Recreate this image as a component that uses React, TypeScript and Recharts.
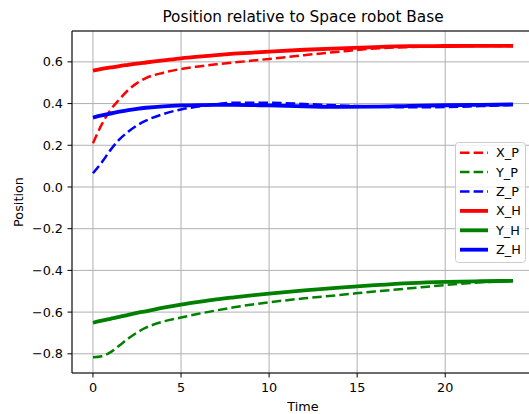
import {
  LineChart,
  Line,
  XAxis,
  YAxis,
  CartesianGrid,
  Legend,
  Label,
  ReferenceLine,
} from "recharts";

const FONT = "DejaVu Sans, sans-serif";

// time samples and series
const T = [0, 0.5, 1, 1.5, 2, 2.5, 3, 4, 5, 6, 7, 8, 10, 12, 14, 16, 18, 20, 22, 23.85];
const XP = [0.21, 0.3, 0.37, 0.42, 0.465, 0.498, 0.522, 0.548, 0.566, 0.578, 0.588, 0.597, 0.614, 0.632, 0.649, 0.664, 0.671, 0.675, 0.676, 0.676];
const YP = [-0.817, -0.812, -0.792, -0.76, -0.727, -0.698, -0.675, -0.645, -0.626, -0.608, -0.592, -0.577, -0.553, -0.534, -0.518, -0.501, -0.486, -0.47, -0.457, -0.451];
const ZP = [0.066, 0.118, 0.178, 0.228, 0.265, 0.295, 0.318, 0.35, 0.372, 0.386, 0.397, 0.404, 0.404, 0.398, 0.391, 0.385, 0.382, 0.383, 0.388, 0.393];
const XH = [0.558, 0.566, 0.573, 0.58, 0.586, 0.592, 0.597, 0.607, 0.617, 0.625, 0.632, 0.639, 0.649, 0.658, 0.665, 0.671, 0.675, 0.676, 0.677, 0.677];
const YH = [-0.651, -0.641, -0.632, -0.623, -0.613, -0.604, -0.596, -0.579, -0.564, -0.551, -0.539, -0.529, -0.511, -0.496, -0.483, -0.471, -0.461, -0.455, -0.452, -0.45];
const ZH = [0.333, 0.343, 0.352, 0.361, 0.369, 0.375, 0.38, 0.387, 0.391, 0.393, 0.394, 0.394, 0.391, 0.387, 0.384, 0.385, 0.389, 0.392, 0.394, 0.396];

const X_TICKS = [0, 5, 10, 15, 20];
const Y_TICKS = [-0.8, -0.6, -0.4, -0.2, 0, 0.2, 0.4, 0.6];

const data = T.map((t, i) => ({
  t,
  X_P: XP[i],
  Y_P: YP[i],
  Z_P: ZP[i],
  X_H: XH[i],
  Y_H: YH[i],
  Z_H: ZH[i],
}));

const series = [
  { key: "X_P", color: "#ff0000", dashed: true },
  { key: "Y_P", color: "#008000", dashed: true },
  { key: "Z_P", color: "#0000ff", dashed: true },
  { key: "X_H", color: "#ff0000", dashed: false },
  { key: "Y_H", color: "#008000", dashed: false },
  { key: "Z_H", color: "#0000ff", dashed: false },
];

const DASH = "9.5 4.1";
const fmtY = (v: number) => (v < 0 ? "\u2212" + Math.abs(v).toFixed(1) : v.toFixed(1));

function LegendBox() {
  return (
    <svg width={71} height={121} style={{ display: "block" }}>
      <rect x={0.5} y={0.5} width={70} height={120} rx={3} fill="rgba(255,255,255,0.8)" stroke="#cccccc" />
      {series.map((s, i) => {
        const y = 10.7 + i * 19.4;
        return (
          <g key={s.key}>
            <line
              x1={5}
              x2={33}
              y1={y}
              y2={y}
              stroke={s.color}
              strokeWidth={s.dashed ? 2.5 : 3.8}
              strokeDasharray={s.dashed ? DASH : undefined}
            />
            <text x={41} y={y} dominantBaseline="central" fontSize={12.8} fontFamily={FONT} fill="#000">
              {s.key}
            </text>
          </g>
        );
      })}
    </svg>
  );
}

export default function App() {
  return (
    <div
      style={{
        position: "fixed",
        left: 0,
        top: 0,
        width: 529,
        height: 414,
        overflow: "hidden",
        background: "#fff",
      }}
    >
      <svg width={529} height={31} style={{ position: "absolute", left: 0, top: 0 }}>
        <text x={303} y={21.5} textAnchor="middle" fontSize={15.3} fontFamily={FONT} fill="#000">
          Position relative to Space robot Base
        </text>
      </svg>
      <LineChart
        width={540}
        height={414}
        data={data}
        margin={{ top: 31, right: 6, bottom: 0, left: 0 }}
        style={{ fontFamily: FONT }}
      >
        <CartesianGrid stroke="#b0b0b0" strokeWidth={1} />
        <XAxis
          dataKey="t"
          type="number"
          domain={[-1.19, 25.04]}
          ticks={X_TICKS}
          allowDataOverflow
          height={41}
          stroke="#000"
          tickSize={4.5}
          tickMargin={5}
          tick={{ fontSize: 12.8, fill: "#000" }}
        >
          <Label value="Time" position="insideBottom" offset={3.5} fontSize={12.8} fill="#000" />
        </XAxis>
        <YAxis
          type="number"
          domain={[-0.892, 0.748]}
          ticks={Y_TICKS}
          allowDataOverflow
          width={72}
          stroke="#000"
          tickSize={4.5}
          tickMargin={4.5}
          tickFormatter={fmtY}
          tick={{ fontSize: 12.8, fill: "#000" }}
        >
          <Label
            content={() => (
              <text
                x={18}
                y={202}
                transform="rotate(-90 18 202)"
                textAnchor="middle"
                dominantBaseline="central"
                fontSize={12.8}
                fontFamily={FONT}
                fill="#000"
              >
                Position
              </text>
            )}
          />
        </YAxis>
        <ReferenceLine y={0.748} stroke="#000" strokeWidth={1} />
        {series.map((s) => (
          <Line
            key={s.key}
            dataKey={s.key}
            type="monotone"
            stroke={s.color}
            strokeWidth={s.dashed ? 2.5 : 3.8}
            strokeDasharray={s.dashed ? DASH : undefined}
            dot={false}
            activeDot={false}
            isAnimationActive={false}
          />
        ))}
        <Legend
          layout="vertical"
          align="center"
          verticalAlign="middle"
          content={() => <LegendBox />}
          wrapperStyle={{ position: "absolute", left: 455, top: 142, width: 71, height: 121 }}
        />
      </LineChart>
    </div>
  );
}
